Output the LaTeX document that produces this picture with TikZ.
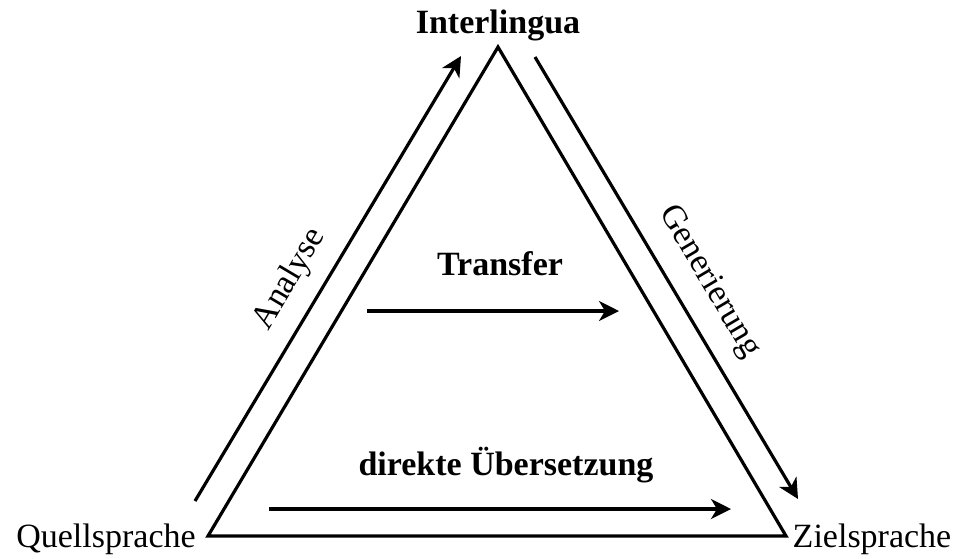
\documentclass[tikz,border=0pt]{standalone}
\usepackage{fontspec}
\setmainfont{Liberation Serif}
\usetikzlibrary{arrows.meta}
\begin{document}
\begin{tikzpicture}[x=0.5pt,y=-0.5pt,
  edge/.style={line width=1.6pt},
  arr/.style={line width=1.6pt,-{Stealth[length=10pt,width=10pt,inset=3pt]}},
  lbl/.style={inner sep=0pt,font=\fontsize{17}{20}\selectfont},
  blbl/.style={inner sep=0pt,font=\fontsize{17}{20}\selectfont\bfseries}]
\useasboundingbox (0,0) rectangle (961,558);
% triangle corners
\coordinate (top) at (498,47);
\coordinate (bl) at (208,536);
\coordinate (br) at (786,536);
\draw[edge,line join=miter] (bl) -- (top) -- (br) -- cycle;
% labels
\node[blbl,anchor=base] (inter) at (498,33) {Interlingua};
\node[lbl,anchor=base] (quell) at (106,547) {Quellsprache};
\node[lbl,anchor=base] (ziel) at (872,547) {Zielsprache};
\node[blbl,anchor=base] (transfer) at (500,275) {Transfer};
\node[blbl,anchor=base] (direkt) at (506,475) {direkte Übersetzung};
\node[lbl,rotate=59.3] (analyse) at (290,279) {Analyse};
\node[lbl,rotate=-59.4] (gen) at (709,282) {Generierung};
% arrows
\coordinate (a1) at (195,501);
\coordinate (a2) at (461,56);
\draw[arr] (a1) -- (a2);
\coordinate (g1) at (535,57);
\coordinate (g2) at (798,499);
\draw[arr] (g1) -- (g2);
\coordinate (t1) at (367,311);
\coordinate (t2) at (619,311);
\draw[arr] (t1) -- (t2);
\coordinate (d1) at (269,509);
\coordinate (d2) at (731,509);
\draw[arr] (d1) -- (d2);
\end{tikzpicture}
\end{document}
